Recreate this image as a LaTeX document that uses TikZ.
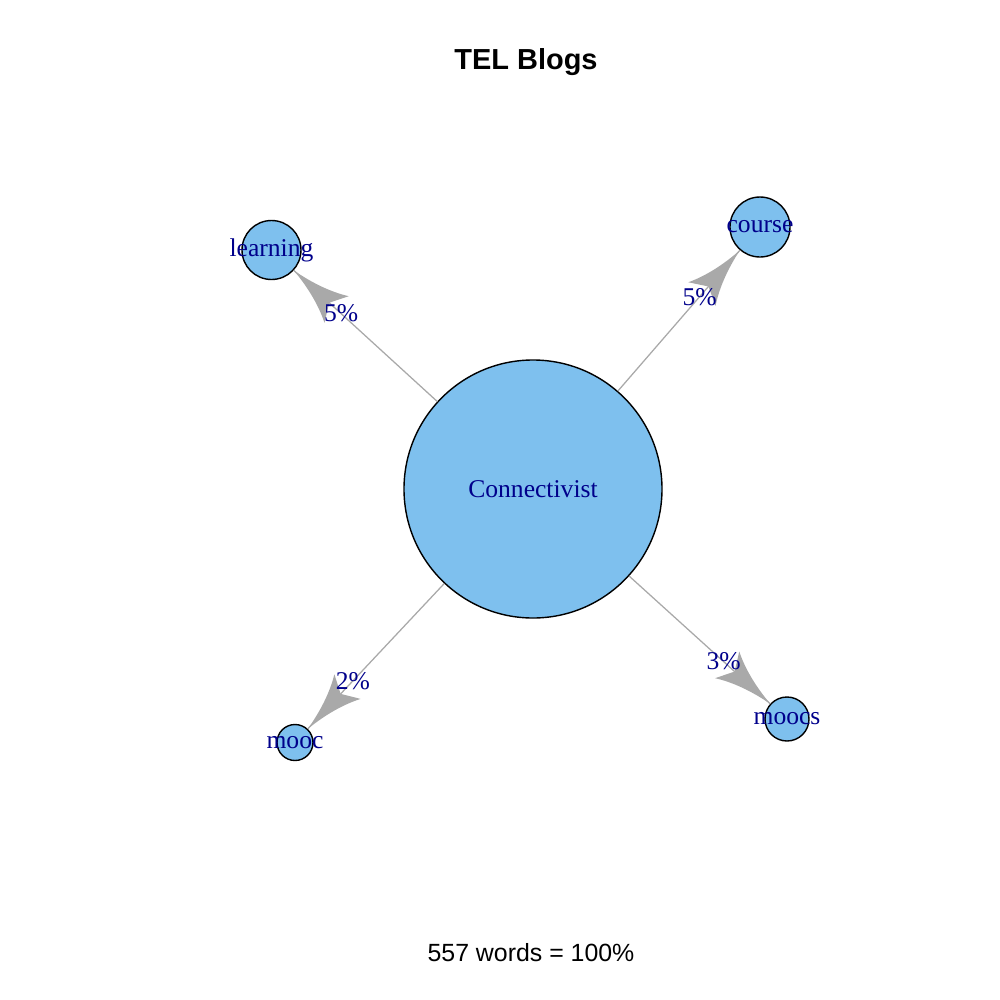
\documentclass[tikz,border=0pt]{standalone}
\usepackage{fontspec}
\setmainfont{Liberation Serif}
\newfontfamily\headfont{Liberation Sans}
\definecolor{vtxfill}{HTML}{7EC0EE}
\definecolor{edgegray}{HTML}{A9A9A9}
\definecolor{lblblue}{HTML}{00008B}

\begin{document}
\begin{tikzpicture}[x=0.25mm,y=-0.25mm,
vertex/.style={circle,draw=black,line width=1pt,fill=vtxfill,inner sep=0pt},
wordlbl/.style={text=lblblue,inner sep=0pt,font=\fontsize{18.2}{20}\selectfont},
edge/.style={draw=edgegray,line width=0.9pt},
pct/.style={pos=0.67,text=lblblue,inner sep=0pt,font=\fontsize{18.2}{20}\selectfont},
headtip/.pic={\fill[edgegray] (0,0) .. controls (-22,3) and (-42,9) .. (-58,18)
  .. controls (-53,8) .. (-48,0) .. controls (-53,-8) .. (-58,-18)
  .. controls (-42,-9) and (-22,-3) .. (0,0) -- cycle;}]
\useasboundingbox (0,0) rectangle (1000,1000);
% words
\node[vertex,minimum size=64.5mm,label={[wordlbl]center:Connectivist}] (hub) at (533,489) {};
\node[vertex,minimum size=14.75mm,label={[wordlbl]center:learning}] (learning) at (271.5,250) {};
\node[vertex,minimum size=15mm,label={[wordlbl]center:course}] (course) at (760,227) {};
\node[vertex,minimum size=9mm,label={[wordlbl]center:mooc}] (mooc) at (295,742.5) {};
\node[vertex,minimum size=11mm,label={[wordlbl]center:moocs}] (moocs) at (787,719) {};
% edges
\draw[edge] (hub) -- (learning) pic[pos=1,sloped,allow upside down]{headtip} node[pct]{5\%};
\draw[edge] (hub) -- (course) pic[pos=1,sloped,allow upside down]{headtip} node[pct]{5\%};
\draw[edge] (hub) -- (mooc) pic[pos=1,sloped,allow upside down]{headtip} node[pct]{2\%};
\draw[edge] (hub) -- (moocs) pic[pos=1,sloped,allow upside down]{headtip} node[pct]{3\%};
% title and count
\node[font={\headfont\bfseries\fontsize{20.6}{24}\selectfont}] (title) at (526,62) {TEL Blogs};
\node[font={\headfont\fontsize{17.7}{20}\selectfont}] (count) at (531,953) {557 words = 100\%};
\end{tikzpicture}
\end{document}
